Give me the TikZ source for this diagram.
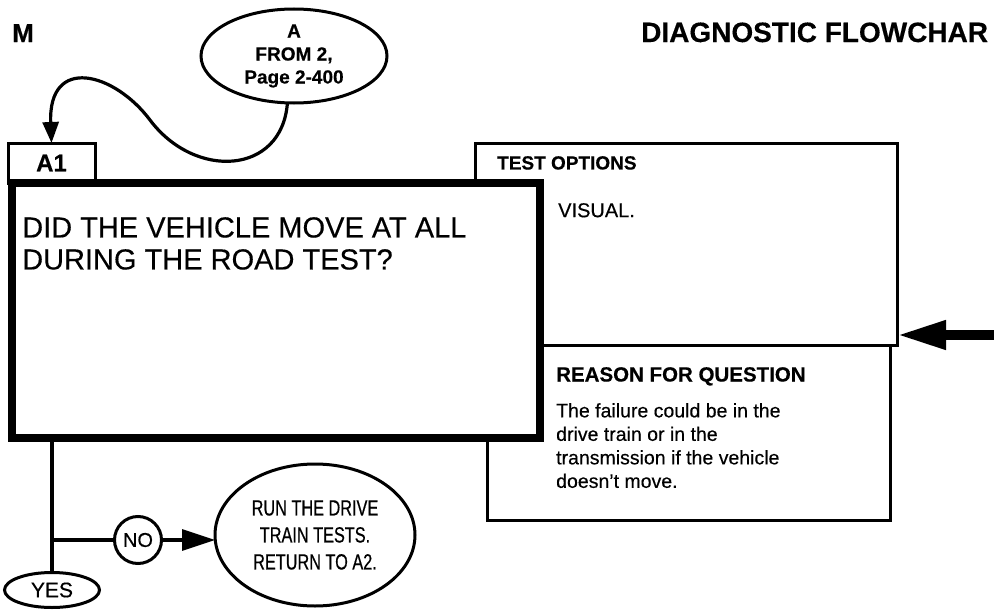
\documentclass[tikz,border=0pt]{standalone}
\usepackage{fontspec}
\setmainfont[FakeBold=0.35]{Liberation Sans}
\newfontfamily\narrowsans[FakeStretch=0.74,FakeBold=0.5]{Liberation Sans}
\usetikzlibrary{arrows.meta,shapes.geometric}
\newcommand{\fsz}[2]{\fontsize{#1}{#2}\selectfont}
\tikzset{
  box/.style={draw,fill=white,line width=3pt,outer sep=0pt,inner sep=0pt},
  qbox/.style={draw,fill=white,line width=8.5pt,outer sep=0pt,inner sep=0pt},
  oval/.style={draw,ellipse,line width=3pt,inner sep=0pt,outer sep=0pt,align=center},
  conn/.style={line width=3.2pt},
  txt/.style={inner sep=0pt,anchor=north west,align=left}
}
\begin{document}
\begin{tikzpicture}[x=1pt,y=-1pt,>={Triangle[length=33pt,width=21pt]}]
  \useasboundingbox (0,0) rectangle (994,613);
  % 見出し
  \node[txt,anchor=base west,font=\bfseries\fsz{26}{30}] (hdl) at (12,42) {M};
  \node[txt,anchor=base west,font=\bfseries\fsz{28}{30}] (hdr) at (641,42) {DIAGNOSTIC FLOWCHAR};
  % 入口
  \node[oval,minimum width=186pt,minimum height=94pt,font=\bfseries\fsz{19}{23}] (from) at (294,56) {A\\FROM 2,\\Page 2-400};
  % 右側の枠
  \node[box,minimum width=422pt,minimum height=202pt,anchor=north west] (opt) at (475,143) {};
  \node[box,minimum width=403pt,minimum height=175pt,anchor=north west] (why) at (487,345) {};
  \node[box,minimum width=87pt,minimum height=40pt,anchor=north west] (a1) at (8,143) {};
  \node[font=\bfseries\fsz{24}{26}] (a1txt) at (a1) {A1};
  % 質問の枠
  \node[qbox,minimum width=528pt,minimum height=255pt,anchor=north west] (q) at (12,183) {};
  \node[txt,font=\fsz{29}{32}] (qtxt) at (22,217) {DID THE VEHICLE MOVE AT ALL\\DURING THE ROAD TEST?};
  \node[txt,font=\bfseries\fsz{19}{22}] (opthd) at (497,156) {TEST OPTIONS};
  \node[txt,font=\fsz{20}{23}] (opttxt) at (558,203) {VISUAL.};
  \node[txt,font=\bfseries\fsz{20.5}{23}] (whyhd) at (556,367) {REASON FOR QUESTION};
  \node[txt,font=\fsz{19.5}{23.5}] (whytxt) at (556,403) {The failure could be in the\\drive train or in the\\transmission if the vehicle\\doesn't move.};
  % 矢印
  \draw[conn,-{Triangle[length=21pt,width=16pt]}] (from.262) .. controls (282,175) and (195,180) .. (150,120) .. controls (114,72) and (48,55) .. (a1.north);
  \coordinate (rin) at (994,335);
  \draw[line width=10pt,-{Triangle[length=49pt,width=27pt]}] (rin) -- (rin -| opt.east);
  % 分岐
  \node[oval,minimum width=95pt,minimum height=35pt,font=\fsz{21}{23}] (yes) at (52,590) {YES};
  \node[oval,circle,minimum size=47pt,font=\fsz{20}{23}] (no) at (138,540) {NO};
  \node[oval,minimum width=200pt,minimum height=142pt,font=\narrowsans\fsz{22}{27}] (run) at (315,535) {RUN THE DRIVE\\TRAIN TESTS.\\RETURN TO A2.};
  \draw[conn] (q.south -| yes.north) -- (yes.north);
  \draw[conn] (no.west -| yes.north) -- (no.west);
  \draw[conn,->] (no.east) -- (no.east -| run.west);
\end{tikzpicture}
\end{document}
